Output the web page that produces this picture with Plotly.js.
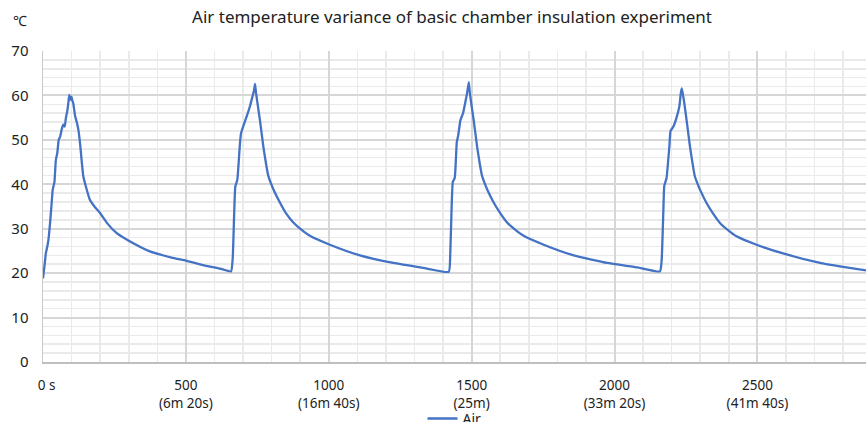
<!DOCTYPE html>
<html>
<head>
<meta charset="utf-8">
<script src="https://cdn.plot.ly/plotly-3.0.1.min.js"></script>
<style>html,body{margin:0;padding:0;background:#fff;}#chart{width:866px;height:422px;}</style>
</head>
<body>
<div id="chart"></div>
<script>
// Time (x units) and air temperature (°C)
var timeCycle1 = [0, 5, 10, 15, 19, 25, 30, 34, 40, 45, 50, 55, 60, 66, 71, 76, 80, 85, 89, 92, 96, 100, 103, 106,
  112, 118, 124, 130, 135, 141, 150, 164, 180, 199, 225, 258, 300, 374, 450, 500, 560, 620, 658];
var tempCycle1 = [18.8, 21.5, 24.5, 26.0, 27.5, 31.5, 35.5, 38.8, 40.5, 45.5, 47.0, 50.0, 50.7, 52.5, 53.4, 53.0, 54.9, 56.5, 58.5, 60.1, 59.0, 59.7, 58.8, 58.2,
  55.5, 54.0, 52.2, 49.0, 45.5, 41.8, 39.5, 36.5, 35.0, 33.6, 31.2, 29.0, 27.3, 24.9, 23.5, 22.8, 21.8, 21.0, 20.4];

var timeCycle2 = [664, 669, 673, 680, 689, 693, 703, 714, 724, 732, 738, 742, 745, 750, 759, 771, 780, 788, 797, 806, 829, 850, 876, 904, 934, 1004, 1109, 1226, 1330, 1420];
var tempCycle2 = [23.5, 33.5, 39.5, 41.0, 49.0, 51.5, 53.5, 55.5, 57.5, 59.5, 61.0, 62.6, 60.8, 58.5, 54.5, 48.5, 44.8, 42.0, 40.3, 38.9, 35.9, 33.5, 31.4, 29.8, 28.4, 26.4, 24.0, 22.3, 21.2, 20.3];

var timeCycle3 = [1425, 1430, 1434, 1441, 1448, 1453, 1461, 1470, 1478, 1484, 1490, 1493, 1498, 1507, 1519, 1528, 1536, 1545, 1554, 1577, 1600, 1624, 1652, 1682, 1752, 1857, 1974, 2080, 2159];
var tempCycle3 = [24.0, 35.0, 40.5, 41.5, 49.5, 51.0, 54.5, 56.0, 58.5, 60.5, 63.0, 61.0, 58.5, 54.5, 48.5, 44.8, 42.0, 40.3, 38.9, 35.9, 33.5, 31.4, 29.8, 28.4, 26.4, 24.0, 22.3, 21.3, 20.4];

var timeCycle4 = [2165, 2171, 2174, 2182, 2192, 2196, 2206, 2217, 2227, 2232, 2235, 2238, 2243, 2252, 2264, 2273, 2281, 2290, 2299, 2322, 2345, 2369, 2397, 2427, 2497, 2602, 2719, 2800, 2880];
var tempCycle4 = [23.0, 34.3, 39.6, 41.4, 48.6, 52.0, 53.0, 55.0, 57.6, 60.5, 61.6, 60.7, 58.8, 54.5, 48.5, 44.7, 41.8, 40.2, 38.8, 35.8, 33.4, 31.3, 29.7, 28.3, 26.4, 24.2, 22.3, 21.4, 20.6];

var xTickVals = [0, 500, 1000, 1500, 2000, 2500];
var xTickText = ['\u00a0\u00a00 s<br>\u00a0', '500<br>(6m 20s)', '1000<br>(16m 40s)', '1500<br>(25m)', '2000<br>(33m 20s)', '2500<br>(41m 40s)'];
var yTickVals = [0, 10, 20, 30, 40, 50, 60, 70];

var timeAll = timeCycle1.concat(timeCycle2, timeCycle3, timeCycle4);
var tempAll = tempCycle1.concat(tempCycle2, tempCycle3, tempCycle4);

var font = 'Noto Sans, Open Sans, sans-serif';

var trace = {
  x: timeAll, y: tempAll, type: 'scatter', mode: 'lines', name: 'Air',
  line: {color: '#4472C4', width: 2.3, shape: 'spline', smoothing: 0.4}
};

var layout = {
  width: 866, height: 422,
  margin: {l: 43, r: 0, t: 51, b: 59.5, autoexpand: false},
  paper_bgcolor: '#fff', plot_bgcolor: '#fff',
  font: {family: font, color: '#222'},
  title: {text: 'Air temperature variance of basic chamber insulation experiment',
    font: {family: font, size: 17, color: '#222'}, x: 0.522, xanchor: 'center', y: 0.96, yanchor: 'middle'},
  showlegend: true,
  legend: {orientation: 'h', x: 0.5, xanchor: 'center', y: -0.183, yanchor: 'middle',
    font: {family: font, size: 14, color: '#222'}, bgcolor: 'rgba(0,0,0,0)'},
  xaxis: {
    range: [0, 2880], tickmode: 'array', tickvals: xTickVals, ticktext: xTickText,
    showgrid: true, gridcolor: '#d6d6d6', gridwidth: 2,
    minor: {dtick: 100, tick0: 0, showgrid: true, gridcolor: '#eaeaea', gridwidth: 1.6, ticks: ''},
    showline: true, linecolor: '#bfbfbf', linewidth: 2,
    zeroline: false, ticks: 'outside', ticklen: 10, tickcolor: 'rgba(0,0,0,0)',
    tickfont: {family: font, size: 13.5, color: '#222'}
  },
  yaxis: {
    range: [0, 70], tickmode: 'array', tickvals: yTickVals,
    showgrid: true, gridcolor: '#d6d6d6', gridwidth: 2,
    minor: {dtick: 2, tick0: 0, showgrid: true, gridcolor: '#eaeaea', gridwidth: 1.6, ticks: ''},
    showline: true, linecolor: '#c8c8c8', linewidth: 1.5,
    zeroline: false, ticks: 'outside', ticklen: 10, tickcolor: 'rgba(0,0,0,0)',
    tickfont: {family: font, size: 15, color: '#222'}
  },
  annotations: [{
    text: '\u2103', xref: 'paper', yref: 'paper', x: -0.0275, y: 1.061, xanchor: 'center', yanchor: 'bottom',
    showarrow: false, font: {family: font, size: 14, color: '#222'}
  }]
};

Plotly.newPlot('chart', [trace], layout, {displayModeBar: false, staticPlot: true});
</script>
</body>
</html>
